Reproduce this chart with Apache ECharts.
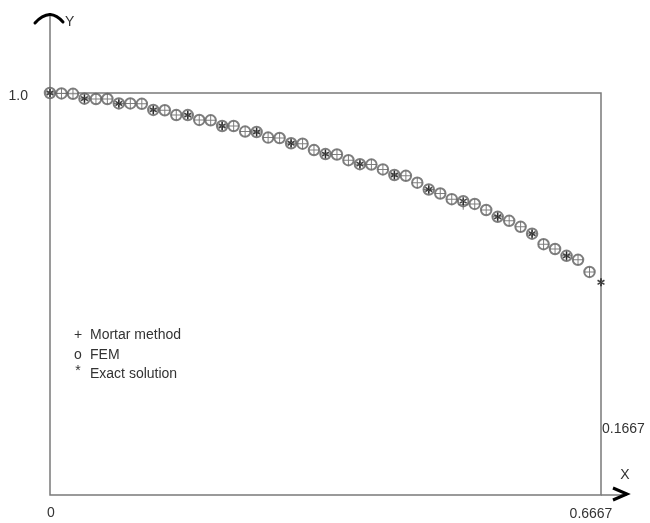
<!DOCTYPE html>
<html>
<head>
<meta charset="utf-8">
<style>
  html, body { margin: 0; padding: 0; background: #fff; }
  #chart { width: 650px; height: 523px; }
</style>
<script src="https://cdn.jsdelivr.net/npm/echarts@6/dist/echarts.min.js"></script>
</head>
<body>
<div id="chart"></div>
<script>
// Grid nodes along x (h = 1/72 on [0, 2/3])
const xNodes = [
  0, 0.0139, 0.0278, 0.0417, 0.0556, 0.0694, 0.0833, 0.0972, 0.1111, 0.125,
  0.1389, 0.1528, 0.1667, 0.1806, 0.1944, 0.2083, 0.2222, 0.2361, 0.25, 0.2639,
  0.2778, 0.2917, 0.3056, 0.3194, 0.3333, 0.3472, 0.3611, 0.375, 0.3889, 0.4028,
  0.4167, 0.4306, 0.4444, 0.4583, 0.4722, 0.4861, 0.5, 0.5139, 0.5278, 0.5417,
  0.5556, 0.5694, 0.5833, 0.5972, 0.6111, 0.625, 0.6389, 0.6528, 0.6667
];

// Mortar method solution at nodes 0..47
const mortarValues = [
  1.000, 0.999, 0.998, 0.986, 0.985, 0.985, 0.974, 0.974, 0.973, 0.958,
  0.957, 0.945, 0.945, 0.933, 0.932, 0.918, 0.918, 0.904, 0.903, 0.889,
  0.888, 0.875, 0.874, 0.858, 0.848, 0.847, 0.833, 0.823, 0.822, 0.810,
  0.796, 0.794, 0.777, 0.760, 0.750, 0.736, 0.722, 0.724, 0.709, 0.692,
  0.682, 0.667, 0.650, 0.624, 0.612, 0.595, 0.585, 0.555
];

// FEM solution at nodes 0..47
const femValues = [
  1.000, 0.999, 0.998, 0.986, 0.985, 0.985, 0.974, 0.974, 0.973, 0.958,
  0.957, 0.945, 0.945, 0.933, 0.932, 0.918, 0.918, 0.904, 0.903, 0.889,
  0.888, 0.875, 0.874, 0.858, 0.848, 0.847, 0.833, 0.823, 0.822, 0.810,
  0.796, 0.794, 0.777, 0.760, 0.750, 0.736, 0.731, 0.724, 0.709, 0.692,
  0.682, 0.667, 0.650, 0.624, 0.612, 0.595, 0.585, 0.555
];

// Exact solution sampled at every third node (0, 3, ..., 48)
const exactNodes = [0, 3, 6, 9, 12, 15, 18, 21, 24, 27, 30, 33, 36, 39, 42, 45, 48];
const exactValues = [
  1.000, 0.986, 0.974, 0.958, 0.945, 0.918, 0.903, 0.875, 0.848,
  0.823, 0.796, 0.760, 0.731, 0.692, 0.650, 0.595, 0.529
];

// Axis annotations
const xMin = 0, xMax = 0.6667;
const yMin = 0, yMax = 1.0;
const xTickLabels = ['0', '0.6667'];
const yTopLabel = '1.0';
const yRightValue = 0.1667;
const yRightLabel = '0.1667';
const legendEntries = [
  { mark: '+', text: 'Mortar method' },
  { mark: 'o', text: 'FEM' },
  { mark: '*', text: 'Exact solution' }
];

const TEXT_FONT = '"Liberation Sans", Arial, Helvetica, sans-serif';
const TEXT_COLOR = '#333';

const plusPath = 'path://M4.5,0h1v10h-1z M0,4.5h10v1h-10z';
// six-armed asterisk: vertical bar plus two bars at +/-30 degrees
const starPath = 'path://M4.0,0h2.0v10h-2.0z ' +
  'M0.2,3.3L1.2,1.6L9.8,6.7L8.8,8.4z ' +
  'M9.8,3.3L8.8,1.6L0.2,6.7L1.2,8.4z';

const mortarData = mortarValues.map((v, i) => [xNodes[i], v]);
const femData = femValues.map((v, i) => [xNodes[i], v]);
const exactData = exactValues.map((v, k) => [xNodes[exactNodes[k]], v]);

const chart = echarts.init(document.getElementById('chart'), null, { renderer: 'canvas' });

chart.setOption({
  animation: false,
  backgroundColor: '#fff',
  grid: {
    left: 50, right: 49, top: 93, bottom: 28,
    show: true, borderColor: '#7a7a7a', borderWidth: 1.5, backgroundColor: 'transparent'
  },
  xAxis: {
    type: 'value', min: xMin, max: xMax,
    axisLine: { show: false }, axisTick: { show: false },
    axisLabel: { show: false }, splitLine: { show: false }
  },
  yAxis: {
    type: 'value', min: yMin, max: yMax,
    axisLine: { show: false }, axisTick: { show: false },
    axisLabel: { show: false }, splitLine: { show: false }
  },
  series: [
    {
      name: 'FEM', type: 'scatter', data: femData,
      symbol: 'emptyCircle', symbolSize: 10.5,
      itemStyle: { color: '#5e5e5e', borderColor: '#5e5e5e', borderWidth: 1 },
      z: 2
    },
    {
      name: 'Mortar method', type: 'scatter', data: mortarData,
      symbol: plusPath, symbolSize: 10, symbolKeepAspect: true,
      itemStyle: { color: '#5e5e5e' },
      z: 3
    },
    {
      name: 'Exact solution', type: 'scatter', data: exactData,
      symbol: starPath, symbolSize: 8, symbolKeepAspect: true,
      itemStyle: { color: '#111' },
      z: 4
    }
  ]
});

// Axis extensions, arrow heads and annotation texts placed from the axis scales
const origin = chart.convertToPixel({ gridIndex: 0 }, [xMin, yMin]);
const corner = chart.convertToPixel({ gridIndex: 0 }, [xMax, yMax]);
const rightMark = chart.convertToPixel({ gridIndex: 0 }, [xMax, yRightValue]);
const x0 = origin[0], y0 = origin[1], x1 = corner[0], y1 = corner[1];

const txt = (x, y, s, align, vAlign, size) => ({
  type: 'text', x, y, silent: true,
  style: {
    text: s, fill: TEXT_COLOR, font: (size || 14) + 'px ' + TEXT_FONT,
    align: align, verticalAlign: vAlign
  }
});

const arrowStyle = { stroke: '#000', lineWidth: 3, fill: null, lineCap: 'round' };

const graphics = [
  // y axis running up past the box
  { type: 'line', silent: true, shape: { x1: x0, y1: y1, x2: x0, y2: 16 },
    style: { stroke: '#7a7a7a', lineWidth: 1.5 } },
  // y arrow head (two curved strokes meeting at the tip)
  { type: 'bezierCurve', silent: true,
    shape: { x1: x0 - 15, y1: 23, cpx1: x0 - 8, cpy1: 15, x2: x0, y2: 14.5 },
    style: arrowStyle },
  { type: 'bezierCurve', silent: true,
    shape: { x1: x0, y1: 14.5, cpx1: x0 + 7, cpy1: 15, x2: x0 + 13, y2: 22 },
    style: arrowStyle },
  txt(x0 + 15, 22, 'Y', 'left', 'middle', 14),
  // x axis running right past the box
  { type: 'line', silent: true, shape: { x1: x1, y1: y0, x2: x1 + 26, y2: y0 },
    style: { stroke: '#7a7a7a', lineWidth: 1.5 } },
  // x arrow head
  { type: 'polyline', silent: true,
    shape: { points: [[x1 + 12, y0 - 7], [x1 + 26, y0 - 1], [x1 + 12, y0 + 5]] },
    style: { stroke: '#000', lineWidth: 3, fill: null, lineJoin: 'miter' } },
  txt(x1 + 24, y0 - 20, 'X', 'center', 'middle', 14),
  // tick annotations
  txt(x0 - 22, y1 + 3, yTopLabel, 'right', 'middle', 14),
  txt(x0 + 1, y0 + 18, xTickLabels[0], 'center', 'middle', 14),
  txt(x1 - 10, y0 + 19, xTickLabels[1], 'center', 'middle', 14),
  txt(x1 + 1, rightMark[1] + 1, yRightLabel, 'left', 'middle', 14)
];

// text legend
const legendX = 74, legendY = [335, 355, 374];
legendEntries.forEach((e, i) => {
  const markY = i === 2 ? legendY[i] - 3 : legendY[i];
  graphics.push(txt(legendX + 4, markY, e.mark, 'center', 'middle', 14));
  graphics.push(txt(legendX + 16, legendY[i], e.text, 'left', 'middle', 14));
});

chart.setOption({ graphic: graphics });
</script>
</body>
</html>
